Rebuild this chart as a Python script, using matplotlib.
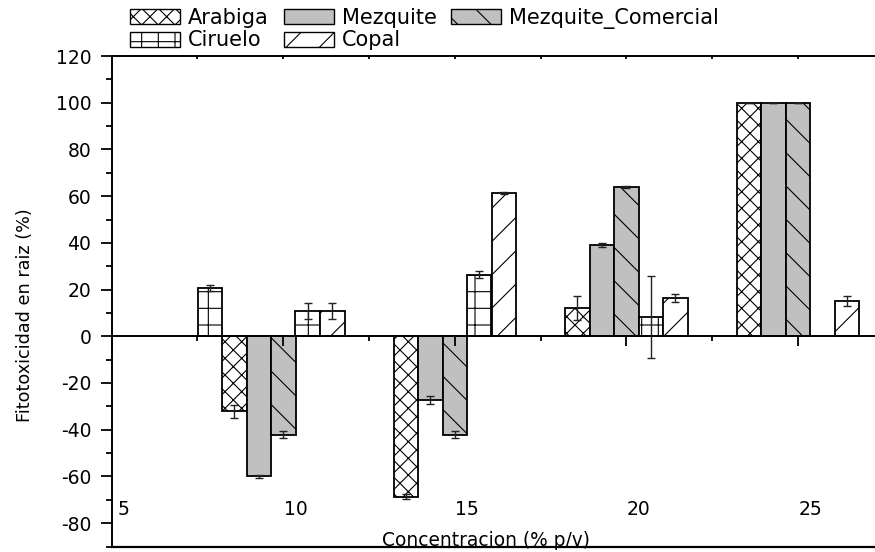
import matplotlib
matplotlib.use("Agg")
import matplotlib.pyplot as plt
from matplotlib.patches import Patch
from matplotlib.ticker import MultipleLocator
import numpy as np

plt.rcParams["font.family"] = ["DejaVu Sans"]
plt.rcParams["hatch.linewidth"] = 0.8
plt.rcParams["axes.unicode_minus"] = False

# Concentration groups (% p/v) and series values (%)
concentraciones = [10, 15, 20, 25]
arabiga = [-32.1, -68.6, 12.1, 100.0]
arabiga_err = [2.8, 1.0, 5.0, 0.0]
mezquite = [-59.9, -27.1, 39.0, 100.0]
mezquite_err = [0.7, 1.7, 0.9, 0.0]
mezquite_com = [-42.1, -42.1, 64.0, 100.0]
mezquite_com_err = [1.4, 1.4, 0.5, 0.0]
ciruelo_x = [7.86, 10.71, 15.71, 20.71]
ciruelo = [20.7, 10.7, 26.4, 8.2]
ciruelo_err = [1.4, 3.4, 1.6, 17.5]
copal = [10.7, 61.4, 16.4, 15.0]
copal_err = [3.4, 0.5, 1.9, 2.1]
x_tick_values = [5, 10, 15, 20, 25]
x_tick_labels = ["5", "10", "15", "20", "25"]

W, H = 875, 552
fig = plt.figure(figsize=(W / 100, H / 100), dpi=100)
ax = fig.add_axes([111.7 / W, (H - 546.5) / H, (W - 111.7) / W, (546.5 - 56) / H])

w = 5 / 7
x = np.array(concentraciones, dtype=float)
gray = "#c0c0c0"
edge_kw = dict(edgecolor="black", linewidth=1.3)

ax.bar(x - 2 * w, arabiga, w, facecolor="white", hatch="xx", **edge_kw)
ax.bar(x - w, mezquite, w, facecolor=gray, **edge_kw)
ax.bar(x, mezquite_com, w, facecolor=gray, hatch="\\", **edge_kw)
ax.bar(ciruelo_x, ciruelo, w, facecolor="white", hatch="+", **edge_kw)
ax.bar(x + 2 * w, copal, w, facecolor="white", hatch="/", **edge_kw)

err_kw = dict(fmt="none", ecolor="#222222", elinewidth=1.0, capsize=3.2,
              capthick=1.0, zorder=3)
ax.errorbar(x - 2 * w, arabiga, yerr=arabiga_err, **err_kw)
ax.errorbar(x - w, mezquite, yerr=mezquite_err, **err_kw)
ax.errorbar(x, mezquite_com, yerr=mezquite_com_err, **err_kw)
ax.errorbar(ciruelo_x, ciruelo, yerr=ciruelo_err, **err_kw)
ax.errorbar(x + 2 * w, copal, yerr=copal_err, **err_kw)

ax.set_xlim(5, (W + 60.3) / 34.33)
ax.set_ylim(-90, 120)

# x axis runs through zero; frame closed at the bottom
ax.spines["bottom"].set_position(("data", 0))
ax.spines["right"].set_visible(False)
for s in ("left", "top", "bottom"):
    ax.spines[s].set_linewidth(1.4)
ax.plot([0, 1], [0, 0], transform=ax.transAxes, color="black", lw=1.6,
        clip_on=False, zorder=5)

ax.xaxis.set_major_locator(MultipleLocator(5))
ax.xaxis.set_minor_locator(MultipleLocator(2.5))
ax.yaxis.set_major_locator(MultipleLocator(20))
ax.yaxis.set_minor_locator(MultipleLocator(10))
ax.tick_params(axis="x", which="both", bottom=True, top=True, labelbottom=False,
               direction="out", width=1.3)
ax.tick_params(axis="x", which="major", length=7)
ax.tick_params(axis="x", which="minor", length=3.5)
ax.tick_params(axis="y", which="both", left=True, right=False, direction="out",
               width=1.3, labelsize=13.5)
ax.tick_params(axis="y", which="major", length=8, pad=6.8)
ax.tick_params(axis="y", which="minor", length=4.5)
ax.set_yticks(np.arange(-80, 121, 20))

# top ticks point inward
for t in ax.xaxis.get_major_ticks() + ax.xaxis.get_minor_ticks():
    t.tick2line.set_markersize(2.5)
    t.tick2line.set_marker(3)

for v, lab in zip(x_tick_values, x_tick_labels):
    ax.text(v + w / 2, -74, lab, ha="center", va="center", fontsize=13.5)

ax.text(0.49, 0.0, "Concentracion (% p/v)", transform=ax.transAxes,
        ha="center", va="baseline", fontsize=13.4)
fig.text(25 / W, 1 - 315 / H, "Fitotoxicidad en raiz (%)", rotation=90,
         ha="center", va="center", fontsize=12.7)

handles = [
    Patch(facecolor="white", edgecolor="black", hatch="xx", label="Arabiga"),
    Patch(facecolor="white", edgecolor="black", hatch="+", label="Ciruelo"),
    Patch(facecolor=gray, edgecolor="black", label="Mezquite"),
    Patch(facecolor="white", edgecolor="black", hatch="/", label="Copal"),
    Patch(facecolor=gray, edgecolor="black", hatch="\\", label="Mezquite_Comercial"),
]
fig.legend(handles=handles, ncol=3, loc="upper left",
           bbox_to_anchor=(130 / W, 1 - 8 / H), frameon=False, fontsize=15,
           handlelength=2.4, handleheight=0.72, handletextpad=0.38,
           columnspacing=0.72, labelspacing=0.12, borderpad=0, borderaxespad=0)

fig.savefig("out.png", dpi=100)
